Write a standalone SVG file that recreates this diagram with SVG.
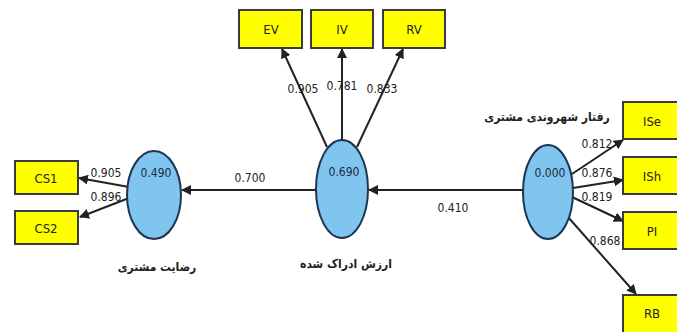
<svg xmlns="http://www.w3.org/2000/svg" width="677" height="332" viewBox="0 0 677 332">
<style>
.box{fill:#ffff00;stroke:#3a3a3a;stroke-width:2}
.lv{fill:#80c4f0;stroke:#1e3550;stroke-width:2}
.bt{font-family:"Liberation Sans Narrow","DejaVu Sans Condensed",sans-serif;font-size:13px;fill:#222;text-anchor:middle;dominant-baseline:central}
.nt{font-family:"Liberation Sans Narrow","DejaVu Sans Condensed",sans-serif;font-size:12px;fill:#1a2a3a;text-anchor:middle;dominant-baseline:central}
.lt{font-family:"Liberation Sans Narrow","DejaVu Sans Condensed",sans-serif;font-size:12px;fill:#222;text-anchor:middle;dominant-baseline:central}
.fa{font-family:"DejaVu Sans Condensed","DejaVu Sans",sans-serif;font-size:12px;font-weight:bold;fill:#222;text-anchor:middle;dominant-baseline:central;direction:rtl}
.ln{stroke:#222;stroke-width:2;fill:none;marker-end:url(#ah)}
</style>
<defs>
<marker id="ah" viewBox="0 0 10 10" refX="9" refY="5" markerWidth="5" markerHeight="5" orient="auto" markerUnits="strokeWidth">
<path d="M0,0 L10,5 L0,10 z" fill="#222"/>
</marker>
</defs>
<rect width="677" height="332" fill="#ffffff"/>
<g id="connectors">
<line class="ln" x1="317" y1="190" x2="182" y2="190"/>
<line class="ln" x1="523" y1="190" x2="369" y2="190"/>
<line class="ln" x1="129" y1="187" x2="79" y2="178"/>
<line class="ln" x1="129" y1="198" x2="80" y2="217"/>
<line class="ln" x1="327" y1="147" x2="282" y2="49"/>
<line class="ln" x1="342" y1="142" x2="342" y2="49"/>
<line class="ln" x1="357" y1="147" x2="403" y2="49"/>
<line class="ln" x1="572" y1="174" x2="623" y2="140"/>
<line class="ln" x1="573" y1="188" x2="623" y2="180"/>
<line class="ln" x1="572" y1="197" x2="623" y2="221"/>
<line class="ln" x1="568" y1="217" x2="636" y2="294"/>
<text class="lt" x="250" y="178">0.700</text>
<text class="lt" x="453" y="208">0.410</text>
<text class="lt" x="106" y="173">0.905</text>
<text class="lt" x="106" y="197">0.896</text>
<text class="lt" x="303" y="89">0.905</text>
<text class="lt" x="342" y="86">0.781</text>
<text class="lt" x="382" y="89">0.833</text>
<text class="lt" x="597" y="144">0.812</text>
<text class="lt" x="597" y="173">0.876</text>
<text class="lt" x="597" y="197">0.819</text>
<text class="lt" x="605" y="241">0.868</text>
</g>
<g id="cs-sat">
<ellipse class="lv" cx="154" cy="195" rx="27" ry="44"/>
<text class="nt" x="156" y="173">0.490</text>
<text class="fa" x="157" y="267">رضایت مشتری</text>
</g>
<g id="perceived-value">
<ellipse class="lv" cx="342" cy="189" rx="26" ry="49"/>
<text class="nt" x="344" y="172">0.690</text>
<text class="fa" x="346" y="264">ارزش ادراک شده</text>
</g>
<g id="citizenship">
<ellipse class="lv" cx="548" cy="192" rx="25" ry="47"/>
<text class="nt" x="550" y="173">0.000</text>
<text class="fa" x="547" y="117">رفتار شهروندی مشتری</text>
</g>
<g id="CS1"><rect class="box" x="15" y="161" width="63" height="33"/><text class="bt" x="46" y="178">CS1</text></g>
<g id="CS2"><rect class="box" x="15" y="211" width="63" height="33"/><text class="bt" x="46" y="228">CS2</text></g>
<g id="EV"><rect class="box" x="239" y="10" width="63" height="38"/><text class="bt" x="271" y="29">EV</text></g>
<g id="IV"><rect class="box" x="311" y="10" width="62" height="38"/><text class="bt" x="342" y="29">IV</text></g>
<g id="RV"><rect class="box" x="383" y="10" width="62" height="38"/><text class="bt" x="414" y="29">RV</text></g>
<g id="ISe"><rect class="box" x="623" y="102" width="60" height="37"/><text class="bt" x="652" y="121">ISe</text></g>
<g id="ISh"><rect class="box" x="623" y="157" width="60" height="37"/><text class="bt" x="652" y="176">ISh</text></g>
<g id="PI"><rect class="box" x="623" y="212" width="60" height="37"/><text class="bt" x="652" y="231">PI</text></g>
<g id="RB"><rect class="box" x="623" y="295" width="60" height="40"/><text class="bt" x="652" y="313">RB</text></g>
</svg>
